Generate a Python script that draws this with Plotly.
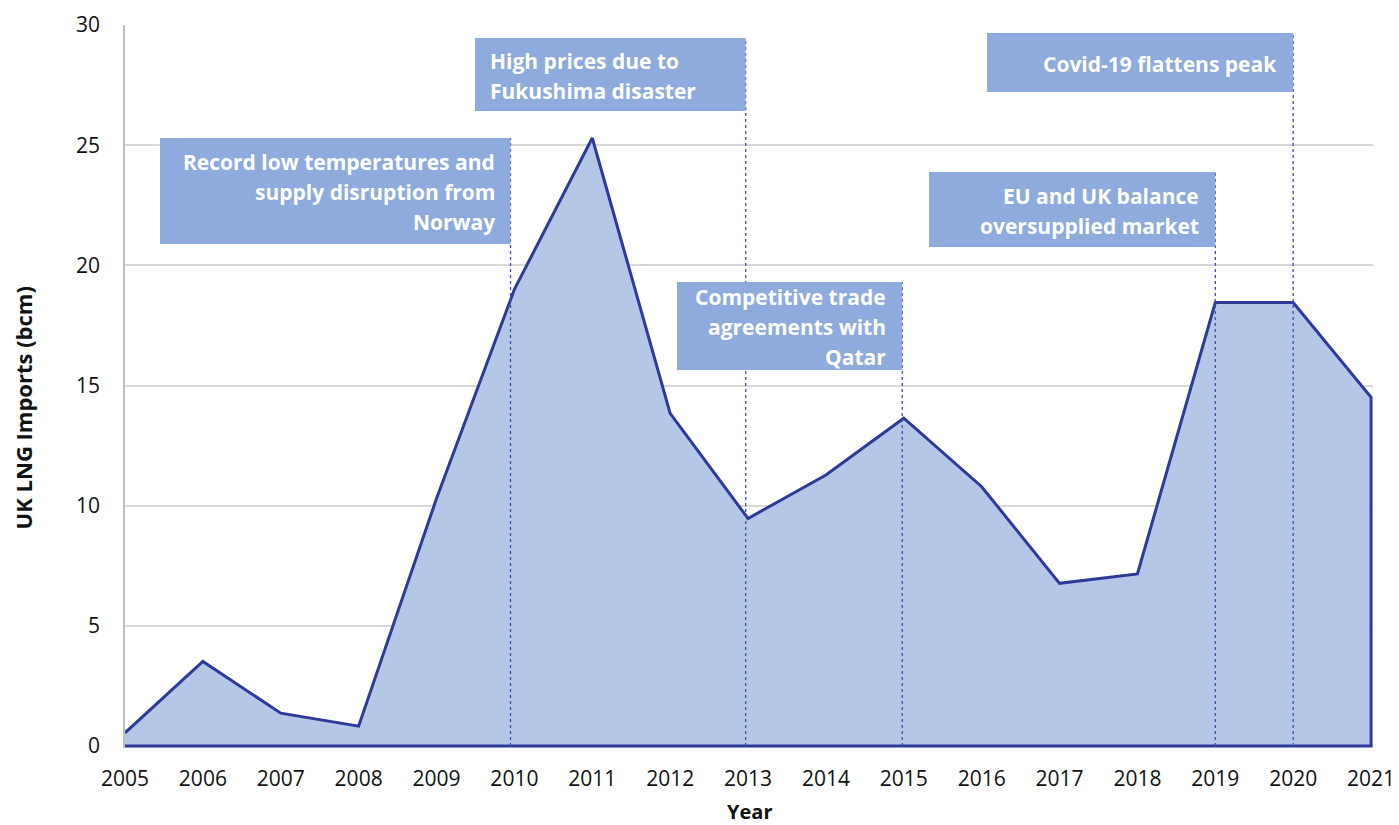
import plotly.graph_objects as go

years = list(range(2005, 2022))
lng_imports = [0.55, 3.52, 1.37, 0.83, 10.3, 19.0, 25.3, 13.84, 9.47, 11.28,
               13.64, 10.79, 6.77, 7.16, 18.45, 18.45, 14.51]

events = [
    # (year of marker, text lines, alignment)
    (2010, ["Record low temperatures and", "supply disruption from", "Norway"], "right"),
    (2013, ["High prices due to", "Fukushima disaster"], "left"),
    (2015, ["Competitive trade", "agreements with", "Qatar"], "right"),
    (2019, ["EU and UK balance", "oversupplied market"], "right"),
    (2020, ["Covid-19 flattens peak"], "right"),
]
# box extents (x0, x1, y0, y1) in axis units
boxes = [
    (2005.449, 2009.95, 20.89, 25.30),
    (2009.494, 2012.97, 26.42, 29.46),
    (2012.088, 2014.98, 15.65, 19.31),
    (2015.324, 2019.0, 20.76, 23.88),
    (2016.069, 2020.0, 27.21, 29.67),
]

FONT = "Open Sans"
LINE_COLOR = "#2E3A9A"
FILL_COLOR = "#B4C7E7"
BOX_COLOR = "#8FAADC"
DOT_COLOR = "#3D4FB5"
TEXT_COLOR = "#111111"

fig = go.Figure()
fig.add_trace(go.Scatter(
    x=years + [years[-1], years[0]],
    y=lng_imports + [0, 0],
    mode="lines",
    fill="toself",
    fillcolor=FILL_COLOR,
    line=dict(color=LINE_COLOR, width=3),
    hoverinfo="skip",
    showlegend=False,
))

shapes = []
annotations = []
for (yr, lines, align), (x0, x1, y0, y1) in zip(events, boxes):
    shapes.append(dict(type="line", xref="x", yref="y", x0=x1, x1=x1, y0=0, y1=y1,
                       line=dict(color=DOT_COLOR, width=1.3, dash="dot"), layer="above"))
for (yr, lines, align), (x0, x1, y0, y1) in zip(events, boxes):
    shapes.append(dict(type="rect", xref="x", yref="y", x0=x0, x1=x1, y0=y0, y1=y1,
                       fillcolor=BOX_COLOR, line=dict(width=0), layer="above"))
    yc = (y0 + y1) / 2
    n = len(lines)
    for i, t in enumerate(lines):
        if align == "right":
            ax, anc, xs = x1, "right", -14
        else:
            ax, anc, xs = x0, "left", 13
        annotations.append(dict(
            x=ax, y=yc, xref="x", yref="y", text="<b>%s</b>" % t, showarrow=False,
            xanchor=anc, yanchor="middle", xshift=xs,
            yshift=((n - 1) / 2 - i) * 30 - 1,
            font=dict(family=FONT, size=21, color="white")))

annotations.append(dict(x=0.5, y=-0.088, xref="paper", yref="paper", text="<b>Year</b>",
                        showarrow=False, xanchor="center", yanchor="middle",
                        font=dict(family=FONT, size=20, color=TEXT_COLOR)))
annotations.append(dict(x=-0.081, y=0.471, xref="paper", yref="paper",
                        text="<b>UK LNG Imports (bcm)</b>", textangle=-90,
                        showarrow=False, xanchor="center", yanchor="middle",
                        font=dict(family=FONT, size=22, color=TEXT_COLOR)))

# page body has an 8px margin; the figure is sized/offset to compensate
fig.update_layout(
    width=1391, height=817,
    margin=dict(l=117, r=26, t=17, b=77, autoexpand=False),
    plot_bgcolor="white", paper_bgcolor="white",
    shapes=shapes, annotations=annotations,
    font=dict(family=FONT, size=21, color=TEXT_COLOR),
    xaxis=dict(range=[2005, 2021.025], tickmode="array", tickvals=years,
               ticktext=[str(y) for y in years], showgrid=False, zeroline=False,
               showline=False, ticks="", ticklabelstandoff=16, automargin=False,
               tickfont=dict(family=FONT, size=21, color=TEXT_COLOR)),
    yaxis=dict(range=[-0.08, 30], tickmode="array", tickvals=[0, 5, 10, 15, 20, 25, 30],
               showgrid=True, gridcolor="#D9D9D9", gridwidth=1.5, zeroline=False,
               showline=True, linecolor="#BFBFBF", linewidth=1.5, ticks="",
               ticklabelstandoff=19, automargin=False,
               tickfont=dict(family=FONT, size=21, color=TEXT_COLOR)),
)

fig.write_html("out.html")
